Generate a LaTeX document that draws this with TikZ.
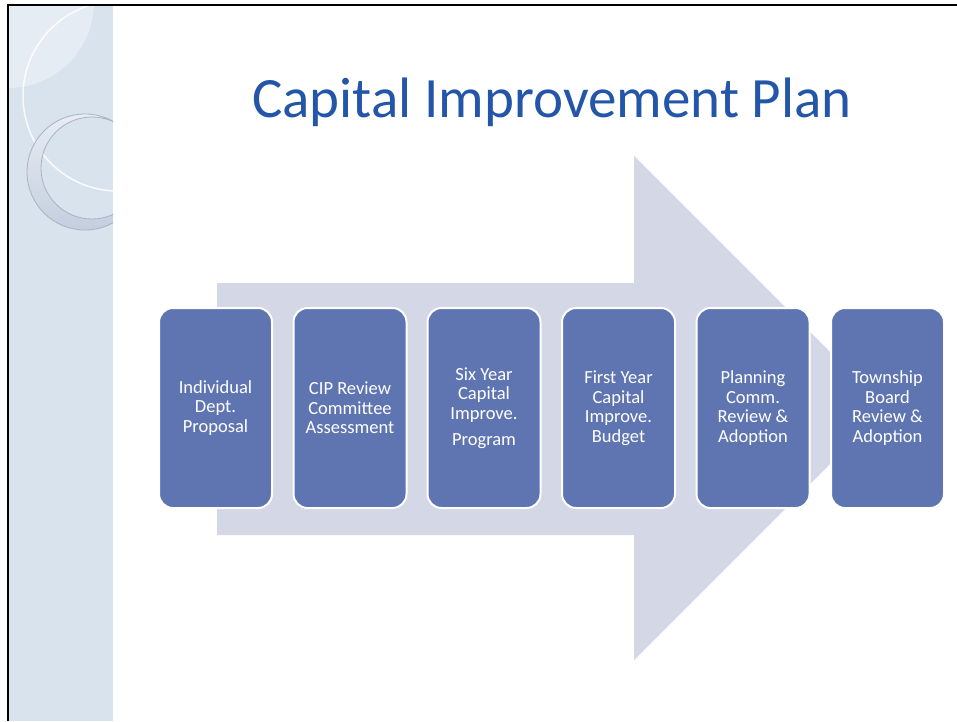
\documentclass[tikz,border=0pt]{standalone}
\usepackage{fontspec}
\setmainfont{Carlito}
\definecolor{sidebar}{RGB}{217,227,238}
\definecolor{ringlight}{RGB}{232,237,245}
\definecolor{ringdark}{RGB}{196,206,222}
\definecolor{ringedge}{RGB}{168,179,197}
\definecolor{arrowfill}{RGB}{211,215,230}
\definecolor{boxblue}{RGB}{95,117,178}
\definecolor{titleblue}{RGB}{35,86,168}
\begin{document}
\begin{tikzpicture}[x=1pt,y=-1pt,
  stagebox/.style={draw=white, line width=2pt, fill=boxblue, rounded corners=14pt,
    minimum width=113pt, minimum height=200pt, inner sep=2pt,
    text=white, align=center, font=\fontsize{18.5}{19.5}\selectfont},
  bigarrow/.style={fill=arrowfill}]
\useasboundingbox (0,0) rectangle (957,721);
\fill[white] (0,0) rectangle (957,721);

% decorative side band with rings
\begin{scope}
  \clip (9,6) rectangle (113,721);
  \fill[sidebar] (9,6) rectangle (113,721);
  \fill[white,opacity=.35] (8,2) circle (86);
  \draw[white,line width=1.5pt,opacity=.85] (118,96) circle (95);
  \shade[even odd rule,top color=ringlight,bottom color=ringdark]
    (85,172) circle (58) (92,168) circle (51);
  \draw[ringedge,line width=.8pt] (85,172) circle (58) (92,168) circle (51);
\end{scope}

% frame lines
\draw[black,line width=2.5pt] (8,721) -- (8,5) -- (957,5);

% title
\node[anchor=base,text=titleblue,font=\fontsize{57}{60}\selectfont] (title) at (552,117) {Capital Improvement Plan};

% background process arrow
\fill[bigarrow] (217,283) -- (634,283) -- (634,156) -- (886,408) -- (634,660) -- (634,535) -- (217,535) -- cycle;

% process stages
\node[stagebox] (s1) at (215.5,408) {Individual\\Dept.\\Proposal};
\node[stagebox] (s2) at (350,408) {CIP Review\\Committee\\Assessment};
\node[stagebox] (s3) at (484,408) {Six Year\\Capital\\Improve.\\[7pt]Program};
\node[stagebox] (s4) at (618.5,408) {First Year\\Capital\\Improve.\\Budget};
\node[stagebox] (s5) at (753,408) {Planning\\Comm.\\Review \&\\Adoption};
\node[stagebox] (s6) at (887.5,408) {Township\\Board\\Review \&\\Adoption};
\end{tikzpicture}
\end{document}
